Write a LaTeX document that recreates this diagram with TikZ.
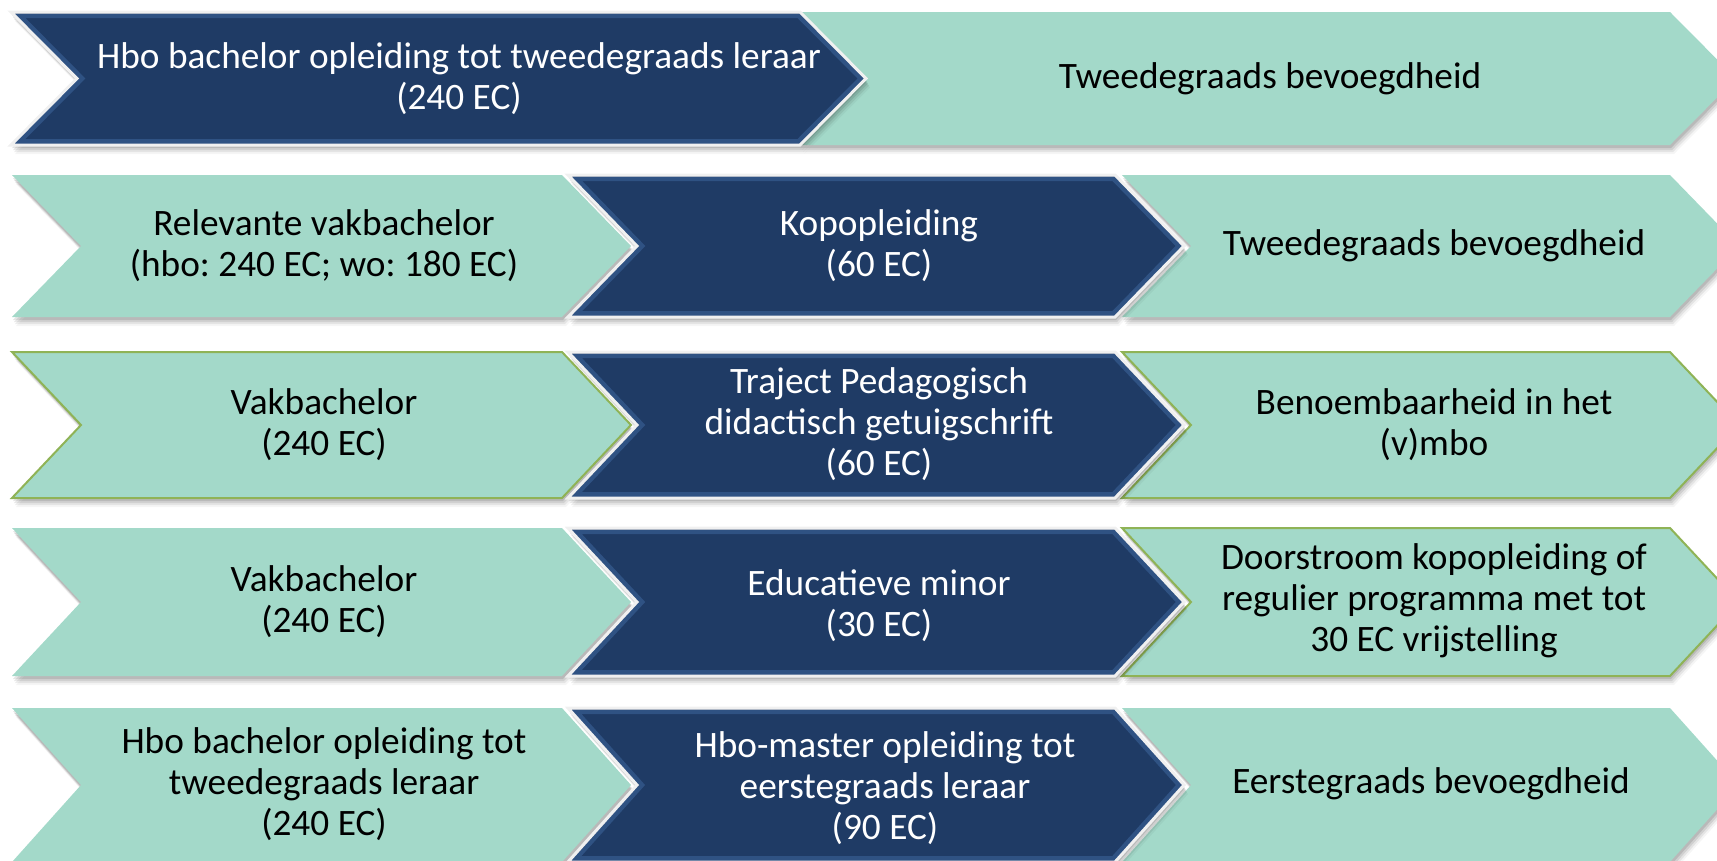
\documentclass[tikz,border=0pt]{standalone}
\usepackage{fontspec}
\setmainfont{Carlito}
\frenchspacing
\definecolor{navy}{HTML}{1F3B65}
\definecolor{navyedge}{HTML}{2F5283}
\definecolor{mint}{HTML}{A3D9C9}
\definecolor{olivegreen}{HTML}{8FB356}
\newcommand\chevshadow[5]{%
  \foreach \dx/\dy/\op in {1/3/0.10,2/5/0.09,3/7/0.07,4/9/0.04}{%
    \fill[black,opacity=\op,shift={(\dx,\dy)}] (#1,#3) -- (#2,#3) -- ({#2+#5},{(#3+#4)/2}) -- (#2,#4) -- (#1,#4) -- ({#1+#5},{(#3+#4)/2}) -- cycle;}}
\newcommand\lightchev[6]{%
  \chevshadow{#1}{#2}{#3}{#4}{#5}%
  \path[lightshape,#6] (#1,#3) -- (#2,#3) -- ({#2+#5},{(#3+#4)/2}) -- (#2,#4) -- (#1,#4) -- ({#1+#5},{(#3+#4)/2}) -- cycle;}
\newcommand\darkchev[5]{%
  \chevshadow{#1}{#2}{#3}{#4}{#5}%
  \fill[navy] (#1,#3) -- (#2,#3) -- ({#2+#5},{(#3+#4)/2}) -- (#2,#4) -- (#1,#4) -- ({#1+#5},{(#3+#4)/2}) -- cycle;
  \begin{scope}
    \clip (#1,#3) -- (#2,#3) -- ({#2+#5},{(#3+#4)/2}) -- (#2,#4) -- (#1,#4) -- ({#1+#5},{(#3+#4)/2}) -- cycle;
    \draw[navyedge,line width=12] (#1,#3) -- (#2,#3) -- ({#2+#5},{(#3+#4)/2}) -- (#2,#4) -- (#1,#4) -- ({#1+#5},{(#3+#4)/2}) -- cycle;
    \draw[navy!85!white,line width=4] (#1,#3) -- (#2,#3);
  \end{scope}
  \draw[white!88!gray,line width=3,line join=miter] (#1,#3) -- (#2,#3) -- ({#2+#5},{(#3+#4)/2}) -- (#2,#4) -- (#1,#4) -- ({#1+#5},{(#3+#4)/2}) -- cycle;}
\begin{document}
\begin{tikzpicture}[x=1pt,y=-1pt,
  lightshape/.style={fill=mint},
  greenrim/.style={draw=olivegreen,line width=2},
  txt/.style={align=center,inner sep=0pt,font=\fontsize{37.3}{41}\selectfont},
  darktxt/.style={txt,text=white},
  lighttxt/.style={txt,text=black}]
\useasboundingbox (0,0) rectangle (1717,860);
\clip (0,0) rectangle (1717,860);
% row 1
\lightchev{800}{1670}{12}{145}{66}{}
\darkchev{11}{800}{12}{145}{66}
% row 2
\lightchev{12}{562}{175}{317}{69}{}
\lightchev{1122}{1670}{175}{317}{69}{}
\darkchev{568}{1115}{175}{317}{69}
% row 3
\lightchev{12}{562}{352}{498}{69}{greenrim}
\lightchev{1122}{1670}{352}{498}{69}{greenrim}
\darkchev{568}{1115}{352}{498}{69}
% row 4
\lightchev{12}{562}{528}{676}{69}{}
\lightchev{1122}{1670}{528}{676}{69}{greenrim}
\darkchev{568}{1115}{528}{676}{69}
% row 5
\lightchev{12}{562}{708}{862}{69}{}
\lightchev{1122}{1670}{708}{862}{69}{}
\darkchev{568}{1115}{708}{862}{69}
% texts
\node[darktxt] (r1a) at (459,79) {Hbo bachelor opleiding tot tweedegraads leraar\\(240 EC)};
\node[lighttxt] (r1b) at (1270,79) {Tweedegraads bevoegdheid};
\node[lighttxt] (r2a) at (324,246) {Relevante vakbachelor\\(hbo: 240 EC; wo: 180 EC)};
\node[darktxt] (r2b) at (879,246) {Kopopleiding\\(60 EC)};
\node[lighttxt] (r2c) at (1434,246) {Tweedegraads bevoegdheid};
\node[lighttxt] (r3a) at (324,425) {Vakbachelor\\(240 EC)};
\node[darktxt] (r3b) at (879,424) {Traject Pedagogisch\\didactisch getuigschrift\\(60 EC)};
\node[lighttxt] (r3c) at (1434,425) {Benoembaarheid in het\\(v)mbo};
\node[lighttxt] (r4a) at (324,602) {Vakbachelor\\(240 EC)};
\node[darktxt] (r4b) at (879,606) {Educatieve minor\\(30 EC)};
\node[lighttxt] (r4c) at (1434,601) {Doorstroom kopopleiding of\\regulier programma met tot\\30 EC vrijstelling};
\node[lighttxt] (r5a) at (324,784) {Hbo bachelor opleiding tot\\tweedegraads leraar\\(240 EC)};
\node[darktxt] (r5b) at (885,788) {Hbo-master opleiding tot\\eerstegraads leraar\\(90 EC)};
\node[lighttxt] (r5c) at (1431,784) {Eerstegraads bevoegdheid};
\end{tikzpicture}
\end{document}
